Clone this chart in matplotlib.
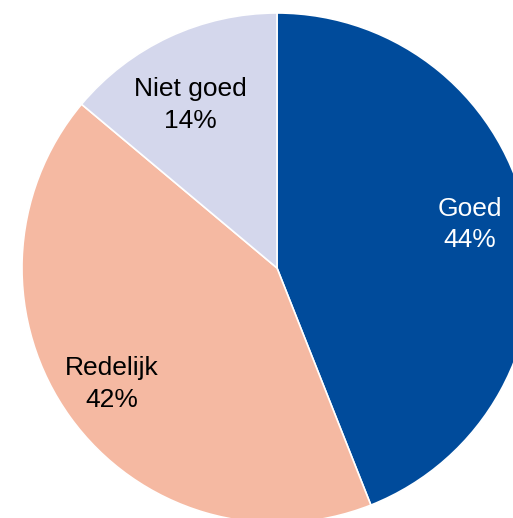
import matplotlib.pyplot as plt

plt.rcParams['font.family'] = ['Liberation Sans', 'DejaVu Sans']

# Data
categorieen = ['Goed', 'Redelijk', 'Niet goed']
waarden = [44.0, 42.1, 13.9]
kleuren = ['#004B9B', '#F5B9A2', '#D4D7EC']
tekstkleur = ['white', 'black', 'black']
# label offsets (x, y) in pie units
label_pos = [(0.757, 0.17), (-0.647, -0.455), (-0.341, 0.64)]

fig = plt.figure(figsize=(5.13, 5.18), dpi=100)
ax = fig.add_axes([22 / 513, -5 / 518, 510 / 513, 510 / 518])

wedges, _ = ax.pie(waarden, colors=kleuren, startangle=90, counterclock=False,
                   radius=1, wedgeprops=dict(edgecolor='white', linewidth=1.2))

for naam, v, (x, y), c in zip(categorieen, waarden, label_pos, tekstkleur):
    ax.text(x, y, f"{naam}\n{round(v)}%", ha='center', va='center',
            fontsize=19, color=c, linespacing=1.4)

ax.set_xlim(-1, 1)
ax.set_ylim(-1, 1)
ax.set_aspect('equal')
ax.axis('off')

fig.savefig('out.png', dpi=100)
